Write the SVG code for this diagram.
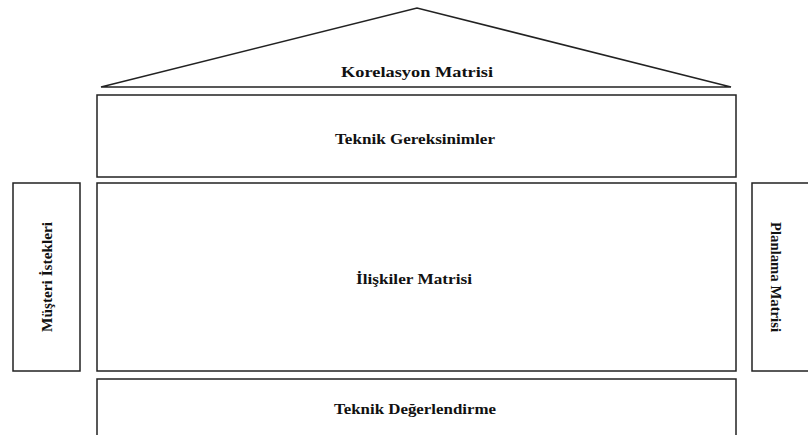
<svg xmlns="http://www.w3.org/2000/svg" width="808" height="435" viewBox="0 0 808 435">
<style>
.box{fill:#fff;stroke:#222;stroke-width:1.5}
.t{font-family:"Liberation Serif","Times New Roman",serif;font-weight:bold;font-size:15px;fill:#111;text-anchor:middle}
</style>
<rect width="808" height="435" fill="#fff"/>
<g id="korelasyon">
<polygon class="box" points="101,87 417,8 731,87"/>
<text class="t" x="417" y="77" textLength="152" lengthAdjust="spacingAndGlyphs">Korelasyon Matrisi</text>
</g>
<g id="teknik-gereksinimler">
<rect class="box" x="97" y="95" width="639" height="82"/>
<text class="t" x="415" y="144" textLength="160" lengthAdjust="spacingAndGlyphs">Teknik Gereksinimler</text>
</g>
<g id="iliskiler">
<rect class="box" x="97" y="183" width="639" height="188"/>
<text class="t" x="414" y="284" textLength="116" lengthAdjust="spacingAndGlyphs">İlişkiler Matrisi</text>
</g>
<g id="teknik-degerlendirme">
<rect class="box" x="97" y="379" width="639" height="70"/>
<text class="t" x="415" y="414" textLength="162" lengthAdjust="spacingAndGlyphs">Teknik Değerlendirme</text>
</g>
<g id="musteri">
<rect class="box" x="13" y="183" width="67" height="188"/>
<text class="t" transform="translate(52,277) rotate(-90)" textLength="110" lengthAdjust="spacingAndGlyphs">Müşteri İstekleri</text>
</g>
<g id="planlama">
<rect class="box" x="752" y="183" width="70" height="188"/>
<text class="t" transform="translate(771,277) rotate(90)" textLength="110" lengthAdjust="spacingAndGlyphs">Planlama Matrisi</text>
</g>
<g id="connectors"></g>
</svg>
